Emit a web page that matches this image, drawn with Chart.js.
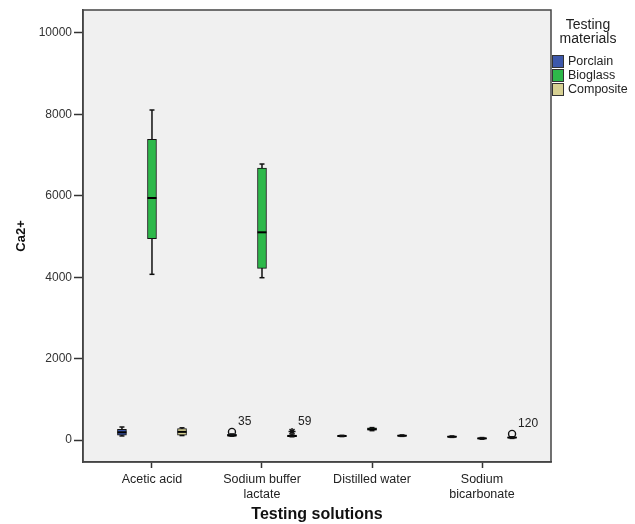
<!DOCTYPE html>
<html>
<head>
<meta charset="utf-8">
<script src="https://cdn.jsdelivr.net/npm/chart.js@4.4.1/dist/chart.umd.min.js"></script>
<style>
  body { margin:0; background:#fff; }
  #wrap { position:relative; width:635px; height:524px; font-family:"Liberation Sans", Arial, sans-serif; }
  #legend { position:absolute; left:552px; top:17px; width:82px; color:#222; }
  #legend .title { text-align:center; font-size:14px; line-height:14px; margin-left:-10px; }
  #legend .item { font-size:12.5px; line-height:14px; height:14px; white-space:nowrap; }
  #legend .sw { display:inline-block; width:10px; height:11px; border:1px solid #333; vertical-align:top; margin-right:4px; margin-top:1px; }
</style>
</head>
<body>
<div id="wrap">
  <canvas id="c" width="635" height="524"></canvas>
  <div id="legend"></div>
</div>
<script>
// ---------------- data ----------------
const categories = [['Acetic acid'], ['Sodium buffer', 'lactate'], ['Distilled water'], ['Sodium', 'bicarbonate']];
const materials = ['Porclain', 'Bioglass', 'Composite'];
const yTickValues = [0, 2000, 4000, 6000, 8000, 10000];
// box statistics per category: [min, q1, median, q3, max]
const porclainStats  = [[100, 120, 190, 260, 320], [95, 100, 110, 140, 150], [85, 90, 100, 110, 115], [65, 70, 80, 95, 100]];
const bioglassStats  = [[4071, 4946, 5946, 7388, 8108], [3988, 4218, 5103, 6683, 6781], [230, 240, 265, 300, 305], [20, 25, 40, 55, 60]];
const compositeStats = [[110, 120, 200, 280, 300], [80, 85, 100, 120, 125], [90, 95, 105, 120, 125], [40, 50, 60, 75, 80]];
// outliers
const outlierCategory = [2, 2, 4];
const outlierMaterial = [0, 2, 2];
const outlierValues   = [200, 210, 150];
const outlierLabels   = ['35', '59', '120'];
const outlierStyles   = ['circle', 'star', 'circle'];

// ---------------- styling ----------------
const FONT = '"Liberation Sans", Arial, sans-serif';
const materialColors = ['#3D58AB', '#2DB84A', '#D6D092'];
const materialOffsets = [-0.273, 0, 0.273];
const allStats = [porclainStats, bioglassStats, compositeStats];
const xTickValues = categories.map((c, i) => i + 1);

const boxDatasets = allStats.map((stats, m) => ({
  type: 'bar',
  label: materials[m],
  data: stats.map((s, i) => ({ x: xTickValues[i] + materialOffsets[m], y: [s[1], s[3]] })),
  backgroundColor: materialColors[m],
  borderColor: '#111',
  borderWidth: 1,
  borderSkipped: false,
  barThickness: 9,
  grouped: false,
  order: 2
}));

const whiskerData = [];
const capData = [];
const medianData = [];
allStats.forEach((stats, m) => stats.forEach((s, i) => {
  const x = xTickValues[i] + materialOffsets[m];
  whiskerData.push({ x, y: s[0] }, { x, y: s[4] }, { x, y: null });
  capData.push({ x, y: s[0] }, { x, y: s[4] });
  medianData.push({ x, y: s[2] });
}));

const outlierData = outlierValues.map((v, k) => ({ x: outlierCategory[k] + materialOffsets[outlierMaterial[k]], y: v }));

const datasets = [
  { type: 'line', label: 'whiskers', data: whiskerData, borderColor: '#111', borderWidth: 1.5, pointRadius: 0, spanGaps: false, fill: false, order: 3 },
  ...boxDatasets,
  { type: 'scatter', label: 'caps', data: capData, pointStyle: 'line', radius: 2.5, borderColor: '#111', borderWidth: 1.5, order: 1 },
  { type: 'scatter', label: 'medians', data: medianData, pointStyle: 'line', radius: 4.5, borderColor: '#000', borderWidth: 2, order: 1 },
  { type: 'scatter', label: 'outliers', data: outlierData, pointStyle: outlierStyles, radius: 3.5, borderColor: '#111', backgroundColor: 'rgba(255,255,255,0)', borderWidth: 1.4, order: 0 }
];

const plotFrame = {
  id: 'plotFrame',
  beforeDraw(chart) {
    const { ctx, chartArea: a } = chart;
    ctx.save();
    ctx.fillStyle = '#F0F0F0';
    ctx.fillRect(a.left, a.top, a.right - a.left, a.bottom - a.top);
    ctx.restore();
  },
  afterDraw(chart) {
    const { ctx, chartArea: a } = chart;
    ctx.save();
    ctx.strokeStyle = '#444';
    ctx.lineWidth = 1.5;
    ctx.strokeRect(a.left, a.top, a.right - a.left, a.bottom - a.top);
    ctx.restore();
  }
};

const outlierText = {
  id: 'outlierText',
  afterDatasetsDraw(chart) {
    const idx = chart.data.datasets.findIndex(d => d.label === 'outliers');
    const meta = chart.getDatasetMeta(idx);
    const ctx = chart.ctx;
    ctx.save();
    ctx.fillStyle = '#222';
    ctx.font = '12px ' + FONT;
    ctx.textBaseline = 'middle';
    meta.data.forEach((pt, k) => ctx.fillText(outlierLabels[k], pt.x + 6, pt.y - 10));
    ctx.restore();
  }
};

new Chart(document.getElementById('c'), {
  type: 'bar',
  data: { datasets },
  plugins: [plotFrame, outlierText],
  options: {
    responsive: false,
    animation: false,
    devicePixelRatio: 1,
    layout: { padding: { top: 10, right: 84, left: 0, bottom: 0 } },
    plugins: { legend: { display: false }, tooltip: { enabled: false } },
    scales: {
      x: {
        type: 'linear',
        min: 0.373, max: 4.627,
        offset: false,
        afterBuildTicks: s => { s.ticks = xTickValues.map(v => ({ value: v })); },
        afterFit: s => { s.height = 62; },
        ticks: {
          callback: v => categories[xTickValues.indexOf(v)],
          font: { size: 12.5, family: FONT }, color: '#222', padding: 4,
          maxRotation: 0, autoSkip: false
        },
        grid: { display: true, drawOnChartArea: false, drawTicks: true, tickLength: 6, tickColor: '#333', tickWidth: 1.5, offset: false },
        border: { display: true, color: '#444', width: 1.5 },
        title: { display: true, text: 'Testing solutions', font: { size: 16, weight: 'bold', family: FONT }, color: '#111', padding: { top: 0, bottom: 0 } }
      },
      y: {
        type: 'linear',
        min: -540, max: 10565,
        afterBuildTicks: s => { s.ticks = yTickValues.map(v => ({ value: v })); },
        afterFit: s => { s.width = 83; },
        ticks: { font: { size: 12, family: FONT }, color: '#333', padding: 2, callback: v => String(v) },
        grid: { display: true, drawOnChartArea: false, drawTicks: true, tickLength: 9, tickColor: '#333', tickWidth: 1.5 },
        border: { display: true, color: '#444', width: 1.5 },
        title: { display: true, text: 'Ca2+', font: { size: 13, weight: 'bold', family: FONT }, color: '#111', padding: { top: 14, bottom: 0 } }
      }
    }
  }
});

// legend (real text)
const lg = document.getElementById('legend');
lg.innerHTML = '<div class="title">Testing<br>materials</div><div style="height:9px"></div>' +
  materials.map((m, i) => '<div class="item"><span class="sw" style="background:' + materialColors[i] + '"></span>' + m + '</div>').join('');
</script>
</body>
</html>
